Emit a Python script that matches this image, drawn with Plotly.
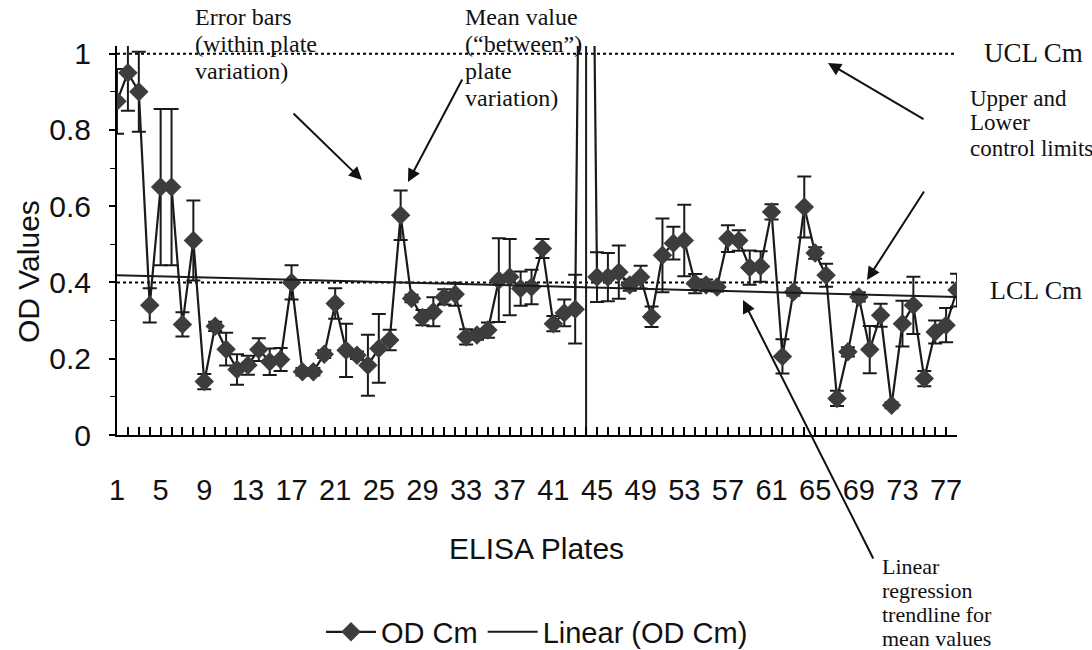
import plotly.graph_objects as go

# ---------------- data ----------------
plates = list(range(1, 79))
od_cm = [0.875, 0.95, 0.90, 0.34, 0.65, 0.65, 0.29, 0.51, 0.14, 0.285,
         0.225, 0.172, 0.183, 0.224, 0.192, 0.198, 0.40, 0.166, 0.166, 0.212,
         0.345, 0.222, 0.209, 0.183, 0.227, 0.249, 0.576, 0.358, 0.308, 0.323,
         0.362, 0.369, 0.257, 0.262, 0.275, 0.406, 0.414, 0.384, 0.388, 0.489,
         0.292, 0.32, 0.33, 3.1, 0.414, 0.414, 0.427, 0.393, 0.414, 0.31,
         0.471, 0.503, 0.51, 0.397, 0.393, 0.388, 0.515, 0.51, 0.439, 0.442,
         0.585, 0.206, 0.375, 0.598, 0.477, 0.419, 0.096, 0.218, 0.362, 0.224,
         0.314, 0.078, 0.292, 0.34, 0.148, 0.27, 0.288, 0.38]
od_err = [0.085, 0.10, 0.105, 0.045, 0.205, 0.205, 0.032, 0.105, 0.02, 0.012,
          0.043, 0.04, 0.025, 0.03, 0.035, 0.03, 0.045, 0.01, 0.01, 0.01,
          0.04, 0.07, 0.01, 0.08, 0.09, 0.027, 0.065, 0.01, 0.02, 0.038,
          0.02, 0.03, 0.02, 0.012, 0.02, 0.11, 0.10, 0.045, 0.045, 0.025,
          0.02, 0.035, 0.09, 3.25, 0.065, 0.063, 0.07, 0.015, 0.03, 0.027,
          0.097, 0.043, 0.094, 0.025, 0.015, 0.012, 0.035, 0.027, 0.045, 0.04,
          0.02, 0.045, 0.01, 0.08, 0.015, 0.03, 0.02, 0.012, 0.012, 0.062,
          0.03, 0.008, 0.06, 0.075, 0.02, 0.03, 0.045, 0.043]
trend_x = [1, 78]
trend_y = [0.419, 0.362]
ucl_value = 1.0
lcl_value = 0.40
x_tick_vals = list(range(1, 78, 4))
x_tick_text = [str(v) for v in x_tick_vals]
y_tick_vals = [0, 0.2, 0.4, 0.6, 0.8, 1.0]
y_tick_text = ["0", "0.2", "0.4", "0.6", "0.8", "1"]

# ---------------- layout constants ----------------
W, H = 1092, 650
PL, PR, PT, PB = 117, 957, 46, 435
SANS = "Liberation Sans, Arial, sans-serif"
SERIF = "Liberation Serif, Times New Roman, serif"


def px(x):
    return (x - PL) / (PR - PL)


def py(y):
    return (PB - y) / (PB - PT)


fig = go.Figure()

fig.add_trace(go.Scatter(x=trend_x, y=[ucl_value, ucl_value], mode="lines",
                         line=dict(color="black", width=2, dash="dot"),
                         showlegend=False, hoverinfo="skip"))
fig.add_trace(go.Scatter(x=trend_x, y=[lcl_value, lcl_value], mode="lines",
                         line=dict(color="black", width=2, dash="dot"),
                         showlegend=False, hoverinfo="skip"))

fig.add_trace(go.Scatter(
    x=plates, y=od_cm, mode="lines+markers", name="OD Cm",
    line=dict(color="#1a1a1a", width=2.2),
    marker=dict(symbol="diamond", size=15, color="#3d3d3d",
                line=dict(width=0)),
    error_y=dict(type="data", array=od_err, visible=True,
                 color="#1a1a1a", thickness=2, width=7),
))

fig.add_trace(go.Scatter(x=trend_x, y=trend_y, mode="lines",
                         name="Linear (OD Cm)",
                         line=dict(color="#1a1a1a", width=2)))

fig.update_xaxes(
    range=[1, 78], showline=True, linecolor="black", linewidth=2,
    showgrid=False, zeroline=False,
    tickmode="array", tickvals=x_tick_vals, ticktext=x_tick_text,
    ticks="inside", ticklen=8, tickwidth=1.5, tickcolor="black",
    minor=dict(ticks="inside", dtick=1, tick0=1, ticklen=8,
               tickwidth=1.5, tickcolor="black", showgrid=False),
    tickfont=dict(family=SANS, size=29, color="#111"),
    ticklabelstandoff=28,
)
fig.update_yaxes(
    range=[0, 1.02], showline=True, linecolor="black", linewidth=2,
    showgrid=False, zeroline=False,
    tickmode="array", tickvals=y_tick_vals, ticktext=y_tick_text,
    ticks="outside", ticklen=6, tickwidth=1.5, tickcolor="black",
    minor=dict(ticks="outside", dtick=0.1, tick0=0, ticklen=5,
               tickwidth=1, tickcolor="black", showgrid=False),
    tickfont=dict(family=SANS, size=30, color="#111"),
    ticklabelstandoff=12,
)

annotations = []


def text(t, x, y, size=24, family=SERIF, anchor="left", angle=0):
    annotations.append(dict(text=t, x=px(x), y=py(y), xref="paper",
                            yref="paper", xanchor=anchor, yanchor="middle",
                            showarrow=False, textangle=angle,
                            font=dict(family=family, size=size, color="#111")))


def arrow(x0, y0, x1, y1, head=2):
    annotations.append(dict(text="", x=px(x1), y=py(y1), xref="paper",
                            yref="paper", ax=x0 - x1, ay=y0 - y1,
                            axref="pixel", ayref="pixel", showarrow=True,
                            arrowhead=head, arrowsize=1.3, arrowwidth=2,
                            arrowcolor="#111"))


# axis titles
text("OD Values", 28, 272, size=30, family=SANS, anchor="center", angle=-90)
text("ELISA Plates", 536, 548, size=30, family=SANS, anchor="center")

# annotations
for i, t in enumerate(["Error bars", "(within plate", "variation)"]):
    text(t, 193, 17 + 27 * i)
for i, t in enumerate(["Mean value", "(\u201cbetween\u201d)", "plate", "variation)"]):
    text(t, 463, 17 + 27 * i)
text("UCL Cm", 982, 53, size=27)
for i, t in enumerate(["Upper and", "Lower", "control limits"]):
    text(t, 968, 98 + 25 * i, size=23)
text("LCL Cm", 988, 290, size=26)
for i, t in enumerate(["Linear", "regression", "trendline for", "mean values"]):
    text(t, 880, 566 + 24 * i, size=22)

arrow(292, 112, 362, 180)
arrow(463, 78, 408, 182)
arrow(925, 120, 828, 63)
arrow(925, 190, 867, 280)
arrow(874, 560, 743, 300)

fig.update_layout(
    width=W, height=H,
    margin=dict(l=PL, r=W - PR, t=PT, b=H - PB, autoexpand=False),
    paper_bgcolor="white", plot_bgcolor="white",
    annotations=annotations,
    legend=dict(orientation="h", x=0.5, xanchor="center", y=py(632),
                yanchor="middle", font=dict(family=SANS, size=29, color="#111"),
                itemwidth=50, bgcolor="rgba(0,0,0,0)"),
    showlegend=True,
)

fig.write_html("out.html")
